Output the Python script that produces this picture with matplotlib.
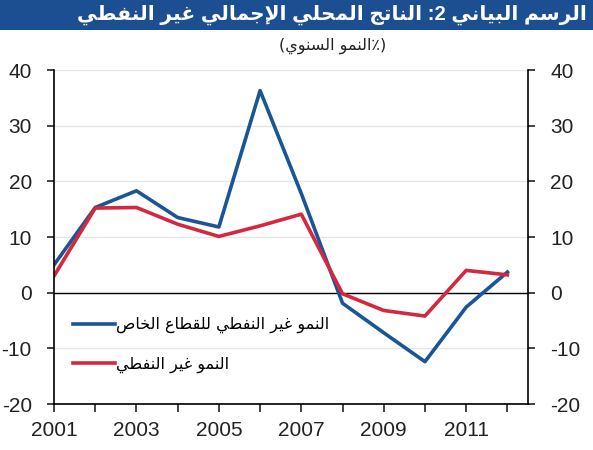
import numpy as np
import matplotlib
matplotlib.use('Agg')
import matplotlib.pyplot as plt
from matplotlib.patches import Rectangle

# ------------------------------------------------------------
# data
# ------------------------------------------------------------
years = list(range(2001, 2013))
private_growth = [5.0, 15.3, 18.3, 13.5, 11.8, 36.3, 17.8, -1.9, -7.2, -12.4, -2.6, 3.7]
nonoil_growth = [3.0, 15.2, 15.3, 12.3, 10.1, 12.0, 14.1, -0.2, -3.2, -4.2, 4.0, 3.2]

title_txt = "الرسم البياني 2: الناتج المحلي الإجمالي غير النفطي"
subtitle_txt = "(٪النمو السنوي)"
label_private = "النمو غير النفطي للقطاع الخاص"
label_nonoil = "النمو غير النفطي"

xticks = [2001, 2003, 2005, 2007, 2009, 2011]
yticks = [-20, -10, 0, 10, 20, 30, 40]

# ------------------------------------------------------------
# tiny arabic shaper (matplotlib does no shaping / bidi)
# forms: isolated, final, initial, medial
# ------------------------------------------------------------
FORMS = {
    'ا': ('\uFE8D', '\uFE8E', None, None),
    'إ': ('\uFE87', '\uFE88', None, None),
    'ب': ('\uFE8F', '\uFE90', '\uFE91', '\uFE92'),
    'ت': ('\uFE95', '\uFE96', '\uFE97', '\uFE98'),
    'ج': ('\uFE9D', '\uFE9E', '\uFE9F', '\uFEA0'),
    'ح': ('\uFEA1', '\uFEA2', '\uFEA3', '\uFEA4'),
    'خ': ('\uFEA5', '\uFEA6', '\uFEA7', '\uFEA8'),
    'ر': ('\uFEAD', '\uFEAE', None, None),
    'س': ('\uFEB1', '\uFEB2', '\uFEB3', '\uFEB4'),
    'ص': ('\uFEB9', '\uFEBA', '\uFEBB', '\uFEBC'),
    'ط': ('\uFEC1', '\uFEC2', '\uFEC3', '\uFEC4'),
    'ع': ('\uFEC9', '\uFECA', '\uFECB', '\uFECC'),
    'غ': ('\uFECD', '\uFECE', '\uFECF', '\uFED0'),
    'ف': ('\uFED1', '\uFED2', '\uFED3', '\uFED4'),
    'ق': ('\uFED5', '\uFED6', '\uFED7', '\uFED8'),
    'ل': ('\uFEDD', '\uFEDE', '\uFEDF', '\uFEE0'),
    'م': ('\uFEE1', '\uFEE2', '\uFEE3', '\uFEE4'),
    'ن': ('\uFEE5', '\uFEE6', '\uFEE7', '\uFEE8'),
    'و': ('\uFEED', '\uFEEE', None, None),
    'ي': ('\uFEF1', '\uFEF2', '\uFEF3', '\uFEF4'),
    'لا': ('\uFEFB', '\uFEFC', None, None),
    'لإ': ('\uFEF9', '\uFEFA', None, None),
}


def shape_word(w):
    units = []
    i = 0
    while i < len(w):
        if w[i] == 'ل' and i + 1 < len(w) and w[i + 1] in 'اإ':
            units.append(w[i:i + 2])
            i += 2
        else:
            units.append(w[i])
            i += 1
    out = []
    for k, u in enumerate(units):
        if u not in FORMS:
            out.append(u)
            continue
        prev = units[k - 1] if k > 0 else None
        nxt = units[k + 1] if k + 1 < len(units) else None
        jp = prev in FORMS and FORMS[prev][2] is not None
        jn = FORMS[u][2] is not None and nxt in FORMS
        iso, fin, ini, med = FORMS[u]
        out.append(med if (jp and jn) else fin if jp else ini if jn else iso)
    return out


def ar(text):
    # returns the text in visual order, left to right
    vis = []
    for w in text.split(' '):
        if any(c in FORMS for c in w):
            vis.append(''.join(reversed(shape_word(w))))
        elif w.endswith(':'):
            vis.append(':' + w[:-1])
        else:
            vis.append(w)
    return ' '.join(reversed(vis))


def ar_paren(text):
    return '(' + ar(text[1:-1]) + ')'


# ------------------------------------------------------------
# figure
# ------------------------------------------------------------
plt.rcParams['font.family'] = ['Liberation Sans', 'DejaVu Sans']
plt.rcParams['axes.unicode_minus'] = False

fig = plt.figure(figsize=(5.93, 4.5), dpi=100)
fig.add_artist(Rectangle((0, 1 - 30 / 450), 1, 30 / 450, transform=fig.transFigure,
                         facecolor='#1B4F91', edgecolor='none'))
fig.text(587 / 593, 1 - 15 / 450, ar(title_txt), color='white', fontsize=14.5,
         fontweight='bold', ha='right', va='center',
         family=['Liberation Sans', 'DejaVu Sans'])
fig.text(333 / 593, 1 - 46 / 450, ar_paren(subtitle_txt), color='#222222',
         fontsize=11.5, ha='center', va='center', family=['DejaVu Sans'])

ax = fig.add_axes([54 / 593, 1 - 404 / 450, 474 / 593, 334 / 450])

ax.plot(years, private_growth, color='#1A5596', lw=2.6, label=ar(label_private))
ax.plot(years, nonoil_growth, color='#D3283F', lw=2.6, label=ar(label_nonoil))
ax.axhline(0, color='black', lw=1.0, zorder=1)

ax.set_xlim(2001, 2012.5)
ax.set_ylim(-20, 40)
ax.set_xticks(years)
ax.set_xticklabels([str(y) if y in xticks else '' for y in years])
ax.set_yticks(yticks)
ax.yaxis.grid(True, color='#E6E6E6', lw=1.0)
ax.set_axisbelow(True)

for s in ['left', 'right', 'bottom']:
    ax.spines[s].set_linewidth(1.2)
ax.spines['top'].set_visible(False)
ax.tick_params(axis='y', direction='out', length=5, width=1.2, labelsize=15,
               right=True, labelright=True, colors='#222222', pad=11)
ax.tick_params(axis='x', direction='out', length=6, width=1.2, labelsize=15,
               colors='#222222', pad=6)

leg = ax.legend(loc='lower left', bbox_to_anchor=(0.01, 0.05), frameon=False,
                handlelength=2.6, handletextpad=0.1, labelspacing=1.45,
                prop={'family': 'DejaVu Sans', 'size': 11.5})

plt.savefig('out.png', dpi=100)
